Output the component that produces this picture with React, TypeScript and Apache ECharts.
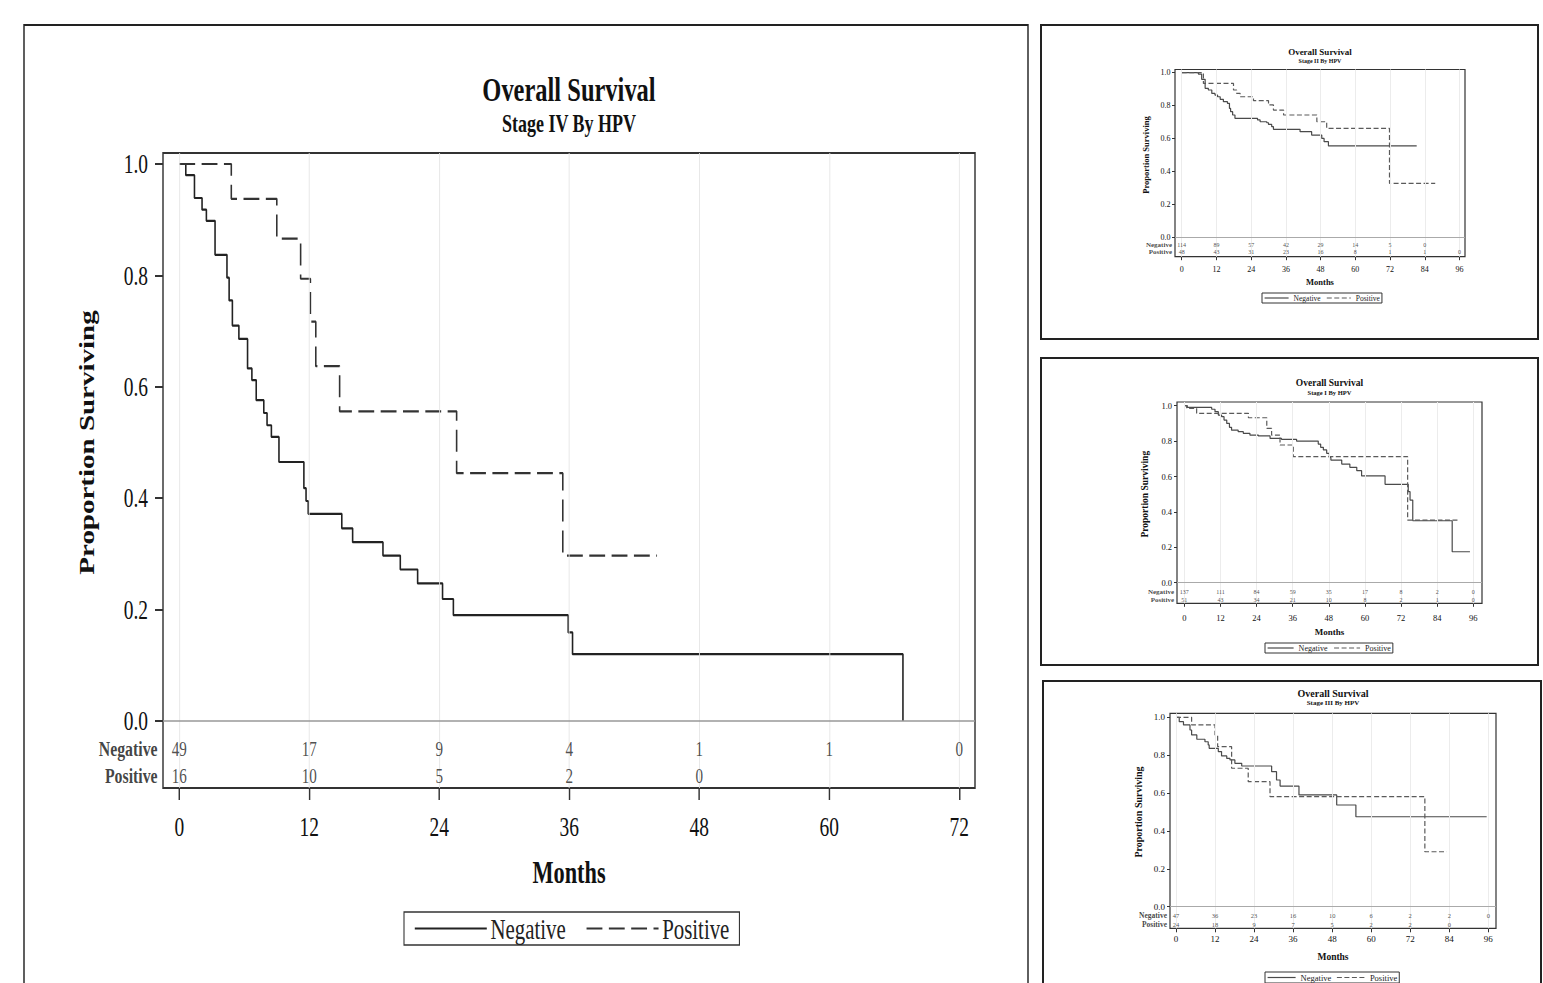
import React, { useEffect, useRef } from "react";
import * as echarts from "echarts";

// ---------------- DATA ----------------
const groups = ["Negative", "Positive"];
const yTicks = [0, 0.2, 0.4, 0.6, 0.8, 1.0];
const ticksMain = [0, 12, 24, 36, 48, 60, 72];
const ticksSmall = [0, 12, 24, 36, 48, 60, 72, 84, 96];
const mainTitle = "Overall Survival";
const xName = "Months";
const yName = "Proportion Surviving";

// Stage IV (main)
const s4Sub = "Stage IV By HPV";
const s4NegTime = [0, 0.6, 1.4, 2.1, 2.5, 3.3, 4.4, 4.6, 4.9, 5.5, 6.3, 6.7, 7.1, 7.8, 8.1, 8.5, 9.2, 11.5, 11.7, 11.9, 15.0, 16.0, 18.8, 20.4, 22.0, 24.3, 25.3, 35.9, 36.3, 66.8];
const s4NegSurv = [1.0, 0.98, 0.939, 0.918, 0.898, 0.837, 0.796, 0.755, 0.71, 0.686, 0.633, 0.612, 0.576, 0.553, 0.531, 0.51, 0.465, 0.418, 0.395, 0.372, 0.346, 0.321, 0.297, 0.272, 0.247, 0.219, 0.19, 0.159, 0.12, 0.0];
const s4PosTime = [0, 4.8, 9.0, 11.2, 12.1, 12.6, 14.8, 25.6, 35.4, 44.1];
const s4PosSurv = [1.0, 0.9375, 0.866, 0.794, 0.717, 0.637, 0.556, 0.445, 0.297, 0.297];
const s4NegRisk = [49, 17, 9, 4, 1, 1, 0];
const s4PosRisk = [16, 10, 5, 2, 0];

// Stage II
const s2Sub = "Stage II By HPV";
const s2NegTime = [0, 5.8, 6.9, 8.1, 9.2, 10.4, 11.5, 12.4, 13.3, 14.4, 15.8, 16.5, 16.9, 17.6, 18.4, 26.2, 27.1, 29.4, 30.0, 31.1, 31.7, 40.9, 44.9, 48.4, 49.2, 50.7, 81.2];
const s2NegSurv = [1.0, 0.991, 0.96, 0.905, 0.895, 0.874, 0.864, 0.854, 0.838, 0.824, 0.814, 0.783, 0.763, 0.743, 0.723, 0.713, 0.702, 0.696, 0.686, 0.672, 0.656, 0.642, 0.621, 0.601, 0.581, 0.555, 0.555];
const s2PosTime = [0, 7.5, 17.9, 19.0, 20.2, 24.8, 30.0, 31.7, 35.2, 46.7, 50.1, 71.8, 87.6];
const s2PosSurv = [1.0, 0.935, 0.895, 0.874, 0.854, 0.83, 0.804, 0.773, 0.743, 0.702, 0.662, 0.328, 0.328];
const s2NegRisk = [114, 89, 57, 42, 29, 14, 5, 0];
const s2PosRisk = [48, 43, 31, 23, 16, 8, 1, 1, 0];

// Stage I
const s1Sub = "Stage I By HPV";
const s1NegTime = [0, 1.0, 9.1, 10.2, 11.3, 12.4, 13.2, 14.1, 15.0, 15.7, 17.9, 19.6, 21.8, 24.6, 28.5, 32.3, 37.3, 44.5, 45.3, 46.2, 47.3, 48.2, 48.7, 52.3, 55.0, 57.3, 58.9, 66.7, 74.4, 75.0, 75.9, 89.0, 94.9];
const s1NegSurv = [1.0, 0.99, 0.98, 0.966, 0.947, 0.938, 0.919, 0.9, 0.878, 0.862, 0.853, 0.844, 0.834, 0.829, 0.815, 0.81, 0.8, 0.783, 0.765, 0.75, 0.731, 0.708, 0.693, 0.67, 0.652, 0.633, 0.603, 0.556, 0.514, 0.467, 0.35, 0.175, 0.175];
const s1PosTime = [0, 0.8, 4.1, 21.3, 27.4, 29.0, 31.8, 36.2, 74.2, 91.6];
const s1PosSurv = [1.0, 0.985, 0.957, 0.932, 0.872, 0.834, 0.778, 0.712, 0.354, 0.354];
const s1NegRisk = [137, 111, 84, 59, 35, 17, 8, 2, 0];
const s1PosRisk = [51, 43, 34, 21, 10, 8, 2, 1, 0];

// Stage III
const s3Sub = "Stage III By HPV";
const s3NegTime = [0, 1.0, 2.3, 4.3, 4.8, 6.4, 8.9, 9.9, 10.2, 13.0, 14.0, 15.6, 16.6, 18.1, 20.2, 29.4, 30.9, 32.0, 37.8, 49.4, 55.3, 95.5];
const s3NegSurv = [1.0, 0.977, 0.96, 0.933, 0.907, 0.884, 0.871, 0.854, 0.836, 0.819, 0.796, 0.783, 0.775, 0.757, 0.743, 0.713, 0.669, 0.637, 0.59, 0.537, 0.475, 0.475];
const s3PosTime = [0, 4.8, 12.0, 12.8, 17.1, 22.2, 28.9, 76.5, 83.2];
const s3PosSurv = [1.0, 0.96, 0.907, 0.845, 0.731, 0.66, 0.581, 0.29, 0.29];
const s3NegRisk = [47, 36, 23, 16, 10, 6, 2, 2, 0];
const s3PosRisk = [24, 18, 9, 7, 5, 2, 2, 0];

// ---------------- LAYOUT / STYLE ----------------
const FONT = '"Liberation Serif", "Times New Roman", serif';
const SX_MAIN = 0.72; // horizontal squeeze of the main panel
const SIDE_LEFT = 1035;

type Cfg = { [k: string]: any };

const mainCfg: Cfg = {
  box: [24, 25, 1028, 1010], boxW: 2,
  frameL: 163, frameR: 975, top: 153, bottom: 788,
  x0: 179.3, ppm: 10.833, y1: 164, y0: 721, frameW: 2,
  titleY: 90, titleSize: 34, subY: 124, subSize: 25,
  yNameX: 87, yNameSize: 29, monthsY: 873, monthsSize: 31,
  tickFont: 27, xTickLen: 12, yTickLen: 8, tickW: 2,
  xLabelMargin: 25, yLabelMargin: 15,
  riskFont: 21, rowFont: 22, rowY: [749, 776], rowGap: 5,
  legLeft: 404, legTop: 912, legFont: 29, legIconW: 72, legIconH: 14, legGap: 20, legPad: [2, 10], legBorder: 1.5,
  lineW: 2.2, dash: [22, 9], negColor: "#222", posColor: "#333",
  gridColor: "#e4e4e4", zeroColor: "#999", zeroW: 1.5,
};

const smallBase: Cfg = {
  boxW: 2, frameW: 1.2, xTickLen: 3.5, yTickLen: 3, tickW: 1,
  rowGap: 2.5, legIconH: 6, legPad: [1, 2], legBorder: 1,
  lineW: 1.2, dash: [5, 2.5], negColor: "#4a4a4a", posColor: "#5a5a5a",
  gridColor: "#ececec", zeroColor: "#aaa", zeroW: 1,
};

const aCfg: Cfg = {
  ...smallBase,
  box: [1041, 25, 1538, 339],
  frameL: 1175, frameR: 1465, top: 69.5, bottom: 256.7,
  x0: 1181.7, ppm: 2.894, y1: 72.7, y0: 237.3,
  titleY: 51.5, titleSize: 9, subY: 60.5, subSize: 6,
  yNameX: 1146, yNameSize: 8.5, monthsY: 282.3, monthsSize: 8.5,
  tickFont: 8, xLabelMargin: 9, yLabelMargin: 4.5,
  riskFont: 6, rowFont: 7, rowY: [245, 252.3],
  legLeft: 1262, legTop: 293, legFont: 7.5, legIconW: 24, legGap: 5.5,
};

const bCfg: Cfg = {
  ...smallBase,
  box: [1041, 358, 1538, 665],
  frameL: 1177, frameR: 1482, top: 402, bottom: 603.3,
  x0: 1184.3, ppm: 3.01, y1: 405.7, y0: 582.7,
  titleY: 383.3, titleSize: 9.5, subY: 392.7, subSize: 6.5,
  yNameX: 1145, yNameSize: 9.5, monthsY: 632.3, monthsSize: 9,
  tickFont: 8.5, xLabelMargin: 10, yLabelMargin: 5,
  riskFont: 6, rowFont: 7, rowY: [591.7, 600],
  legLeft: 1265, legTop: 643, legFont: 8, legIconW: 26, legGap: 6,
};

const cCfg: Cfg = {
  ...smallBase,
  box: [1043, 681, 1541, 1010],
  frameL: 1170, frameR: 1496, top: 713.3, bottom: 928.3,
  x0: 1176, ppm: 3.253, y1: 717.3, y0: 906.7,
  titleY: 693.3, titleSize: 10, subY: 703.3, subSize: 7,
  yNameX: 1138, yNameSize: 10, monthsY: 956.7, monthsSize: 9.5,
  tickFont: 9, xTickLen: 4, xLabelMargin: 6, yLabelMargin: 5,
  riskFont: 6.5, rowFont: 7.5, rowY: [915.7, 924],
  legLeft: 1265, legTop: 972, legFont: 8.5, legIconW: 28, legGap: 5,
};

type PanelData = {
  sub: string; ticks: number[];
  negT: number[]; negS: number[]; posT: number[]; posS: number[];
  riskNeg: number[]; riskPos: number[];
};

const mainData: PanelData = { sub: s4Sub, ticks: ticksMain, negT: s4NegTime, negS: s4NegSurv, posT: s4PosTime, posS: s4PosSurv, riskNeg: s4NegRisk, riskPos: s4PosRisk };
const aData: PanelData = { sub: s2Sub, ticks: ticksSmall, negT: s2NegTime, negS: s2NegSurv, posT: s2PosTime, posS: s2PosSurv, riskNeg: s2NegRisk, riskPos: s2PosRisk };
const bData: PanelData = { sub: s1Sub, ticks: ticksSmall, negT: s1NegTime, negS: s1NegSurv, posT: s1PosTime, posS: s1PosSurv, riskNeg: s1NegRisk, riskPos: s1PosRisk };
const cData: PanelData = { sub: s3Sub, ticks: ticksSmall, negT: s3NegTime, negS: s3NegSurv, posT: s3PosTime, posS: s3PosSurv, riskNeg: s3NegRisk, riskPos: s3PosRisk };

const zip = (a: number[], b: number[]) => a.map((v, i) => [v, b[i]]);

function buildOption(panels: { c: Cfg; d: PanelData }[], sx: number, ox: number) {
  const X = (v: number) => (v - ox) / sx;
  const L = (v: number) => v / sx;
  const grid: any[] = [], xAxis: any[] = [], yAxis: any[] = [], series: any[] = [], legend: any[] = [], elements: any[] = [];

  panels.forEach(({ c, d }, i) => {
    const ppy = c.y0 - c.y1;
    const xmin = (c.frameL - c.x0) / c.ppm;
    const xmax = (c.frameR - c.x0) / c.ppm;
    const ymax = (c.y0 - c.top) / ppy;
    const ymin = (c.y0 - c.bottom) / ppy;
    const rowVals = c.rowY.map((y: number) => (c.y0 - y) / ppy);
    const cx = (c.frameL + c.frameR) / 2;
    const plotMid = (c.y1 + c.y0) / 2;

    grid.push({
      left: X(c.frameL), top: c.top, width: L(c.frameR - c.frameL), height: c.bottom - c.top,
      show: true, borderColor: "#333", borderWidth: c.frameW, backgroundColor: "transparent",
      containLabel: false, outerBoundsMode: "none",
    });
    xAxis.push({
      type: "value", gridIndex: i, min: xmin, max: xmax, position: "bottom",
      axisLine: { show: false, onZero: false },
      axisTick: { show: true, customValues: d.ticks, length: c.xTickLen, lineStyle: { color: "#333", width: c.tickW } },
      axisLabel: { customValues: d.ticks, margin: c.xLabelMargin, fontFamily: FONT, fontSize: c.tickFont, color: "#111" },
      splitLine: { show: false },
    });
    yAxis.push({
      type: "value", gridIndex: i, min: ymin, max: ymax, position: "left",
      axisLine: { show: false, onZero: false },
      axisTick: { show: true, customValues: yTicks, length: L(c.yTickLen), lineStyle: { color: "#333", width: c.tickW } },
      axisLabel: { customValues: yTicks, margin: L(c.yLabelMargin), fontFamily: FONT, fontSize: c.tickFont, color: "#111", formatter: (v: number) => v.toFixed(1) },
      splitLine: { show: false },
    });

    // reference lines (vertical month grid + zero line)
    series.push({
      type: "line", name: `ref${i}`, xAxisIndex: i, yAxisIndex: i, data: [], silent: true, z: 1,
      markLine: {
        silent: true, symbol: ["none", "none"], label: { show: false }, animation: false,
        data: [
          ...d.ticks.map((m) => ({ xAxis: m, lineStyle: { color: c.gridColor, width: 1, type: "solid" } })),
          { yAxis: 0, lineStyle: { color: c.zeroColor, width: c.zeroW, type: "solid" } },
        ],
      },
    });

    series.push({
      type: "line", name: groups[0], xAxisIndex: i, yAxisIndex: i, step: "end", symbol: "none", showSymbol: false,
      data: zip(d.negT, d.negS), z: 3, silent: true,
      itemStyle: { color: c.negColor },
      lineStyle: { color: c.negColor, width: c.lineW, type: "solid" },
    });
    series.push({
      type: "line", name: groups[1], xAxisIndex: i, yAxisIndex: i, step: "end", symbol: "none", showSymbol: false,
      data: zip(d.posT, d.posS), z: 3, silent: true,
      itemStyle: { color: c.posColor },
      lineStyle: { color: c.posColor, width: c.lineW, type: c.dash },
    });

    // numbers at risk
    series.push({
      type: "scatter", name: `risk${i}`, xAxisIndex: i, yAxisIndex: i, silent: true, z: 5, clip: false,
      symbol: "circle", symbolSize: 1, itemStyle: { color: "rgba(0,0,0,0)" },
      data: [
        ...d.riskNeg.map((n, k) => ({ value: [d.ticks[k], rowVals[0]], name: String(n) })),
        ...d.riskPos.map((n, k) => ({ value: [d.ticks[k], rowVals[1]], name: String(n) })),
      ],
      label: { show: true, position: "inside", formatter: "{b}", fontFamily: FONT, fontSize: c.riskFont, color: "#222" },
    });
    series.push({
      type: "scatter", name: `rows${i}`, xAxisIndex: i, yAxisIndex: i, silent: true, z: 5, clip: false,
      symbol: "circle", symbolSize: 1, itemStyle: { color: "rgba(0,0,0,0)" },
      data: groups.map((g, k) => ({ value: [xmin, rowVals[k]], name: g })),
      label: { show: true, position: "left", distance: L(c.rowGap), formatter: "{b}", fontFamily: FONT, fontWeight: "bold", fontSize: c.rowFont, color: "#111" },
    });

    legend.push({
      show: true, selectedMode: false, orient: "horizontal",
      left: X(c.legLeft), top: c.legTop,
      itemWidth: L(c.legIconW), itemHeight: c.legIconH, itemGap: L(c.legGap),
      padding: [c.legPad[0], L(c.legPad[1])],
      borderColor: "#333", borderWidth: c.legBorder, borderRadius: 0, backgroundColor: "#fff",
      textStyle: { fontFamily: FONT, fontSize: c.legFont, color: "#222" },
      itemStyle: { opacity: 0 },
      data: [
        { name: groups[0], itemStyle: { opacity: 0 }, lineStyle: { color: c.negColor, width: c.lineW, type: "solid" } },
        { name: groups[1], itemStyle: { opacity: 0 }, lineStyle: { color: c.posColor, width: c.lineW, type: c.dash } },
      ],
    });

    elements.push(
      {
        type: "rect", silent: true,
        shape: { x: X(c.box[0]), y: c.box[1], width: L(c.box[2] - c.box[0]), height: c.box[3] - c.box[1] },
        style: { fill: "none", stroke: "#222", lineWidth: c.boxW },
      },
      {
        type: "text", silent: true, x: X(cx), y: c.titleY,
        style: { text: mainTitle, fontFamily: FONT, fontWeight: "bold", fontSize: c.titleSize, fill: "#111", align: "center", verticalAlign: "middle" },
      },
      {
        type: "text", silent: true, x: X(cx), y: c.subY,
        style: { text: d.sub, fontFamily: FONT, fontWeight: "bold", fontSize: c.subSize, fill: "#111", align: "center", verticalAlign: "middle" },
      },
      {
        type: "text", silent: true, x: X(c.yNameX), y: plotMid, rotation: Math.PI / 2,
        style: { text: yName, fontFamily: FONT, fontWeight: "bold", fontSize: c.yNameSize, fill: "#111", align: "center", verticalAlign: "middle" },
      },
      {
        type: "text", silent: true, x: X(cx), y: c.monthsY,
        style: { text: xName, fontFamily: FONT, fontWeight: "bold", fontSize: c.monthsSize, fill: "#111", align: "center", verticalAlign: "middle" },
      }
    );
  });

  return {
    animation: false,
    backgroundColor: "#fff",
    textStyle: { fontFamily: FONT },
    grid, xAxis, yAxis, series, legend,
    graphic: { elements },
  };
}

export default function App() {
  const mainRef = useRef<HTMLDivElement>(null);
  const sideRef = useRef<HTMLDivElement>(null);

  useEffect(() => {
    const c1 = echarts.init(mainRef.current as HTMLDivElement, null, { renderer: "svg" });
    c1.setOption(buildOption([{ c: mainCfg, d: mainData }], SX_MAIN, 0));
    const c2 = echarts.init(sideRef.current as HTMLDivElement, null, { renderer: "svg" });
    c2.setOption(buildOption([{ c: aCfg, d: aData }, { c: bCfg, d: bData }, { c: cCfg, d: cData }], 1, SIDE_LEFT));
    return () => {
      c1.dispose();
      c2.dispose();
    };
  }, []);

  return (
    <div style={{ position: "fixed", left: 0, top: 0, width: 1543, height: 983, overflow: "hidden", background: "#fff" }}>
      <div
        ref={mainRef}
        style={{ position: "absolute", left: 0, top: 0, width: SIDE_LEFT / SX_MAIN, height: 983, transform: `scaleX(${SX_MAIN})`, transformOrigin: "0 0" }}
      />
      <div ref={sideRef} style={{ position: "absolute", left: SIDE_LEFT, top: 0, width: 1543 - SIDE_LEFT, height: 983 }} />
    </div>
  );
}
